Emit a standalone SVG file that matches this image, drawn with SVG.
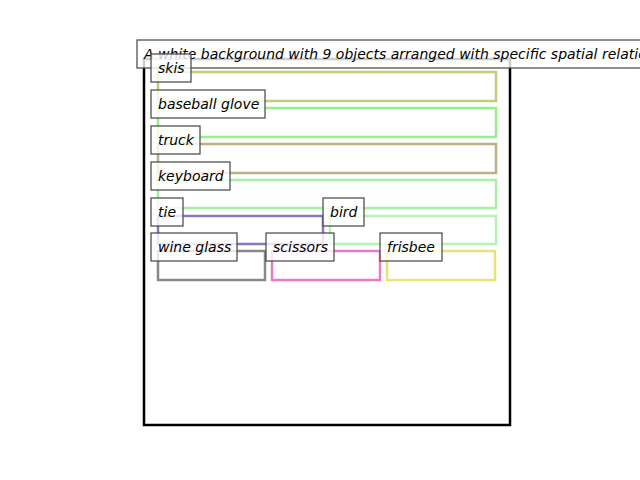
<svg xmlns="http://www.w3.org/2000/svg" width="640" height="480" viewBox="0 0 640 480">
<style>
.obj{fill:none;stroke-width:2.5}
.lbl rect{fill:#fff;fill-opacity:0.8;stroke:#444;stroke-width:1.2}
.lbl text{font-family:"DejaVu Sans",sans-serif;font-style:italic;font-size:14px;fill:#000}
</style>
<rect width="640" height="480" fill="#fff"/>
<rect id="frame" x="144" y="59" width="366" height="366" fill="none" stroke="#000" stroke-width="2.5"/>
<g id="connectors">
<rect class="obj" x="158" y="72" width="338" height="29" stroke="#c4cc78"/>
<rect class="obj" x="158" y="108" width="338" height="29" stroke="#98f088"/>
<rect class="obj" x="158" y="144" width="338" height="29" stroke="#bcb088"/>
<rect class="obj" x="158" y="180" width="338" height="28" stroke="#a4f0a4"/>
<rect class="obj" x="158" y="216" width="165" height="28" stroke="#8878c0"/>
<rect class="obj" x="330" y="216" width="166" height="28" stroke="#b4f4b0"/>
<rect class="obj" x="158" y="251" width="107" height="29" stroke="#888888"/>
<rect class="obj" x="272" y="251" width="108" height="29" stroke="#ec78c8"/>
<rect class="obj" x="387" y="251" width="108" height="29" stroke="#e4e478"/>
</g>
<g id="title" class="lbl"><rect x="137" y="40" width="560" height="28"/><text x="144" y="59">A white background with 9 objects arranged with specific spatial relationships</text></g>
<g id="skis" class="lbl"><rect x="151" y="54" width="40" height="28"/><text x="158" y="73">skis</text></g>
<g id="baseball-glove" class="lbl"><rect x="151" y="90" width="114" height="28"/><text x="158" y="109">baseball glove</text></g>
<g id="truck" class="lbl"><rect x="151" y="126" width="49" height="28"/><text x="158" y="145">truck</text></g>
<g id="keyboard" class="lbl"><rect x="151" y="162" width="79" height="28"/><text x="158" y="181">keyboard</text></g>
<g id="tie" class="lbl"><rect x="151" y="198" width="32" height="28"/><text x="158" y="217">tie</text></g>
<g id="bird" class="lbl"><rect x="323" y="198" width="41" height="28"/><text x="330" y="217">bird</text></g>
<g id="wine-glass" class="lbl"><rect x="151" y="233" width="86" height="28"/><text x="158" y="252">wine glass</text></g>
<g id="scissors" class="lbl"><rect x="266" y="233" width="68" height="28"/><text x="273" y="252">scissors</text></g>
<g id="frisbee" class="lbl"><rect x="380" y="233" width="62" height="28"/><text x="387" y="252">frisbee</text></g>
</svg>
